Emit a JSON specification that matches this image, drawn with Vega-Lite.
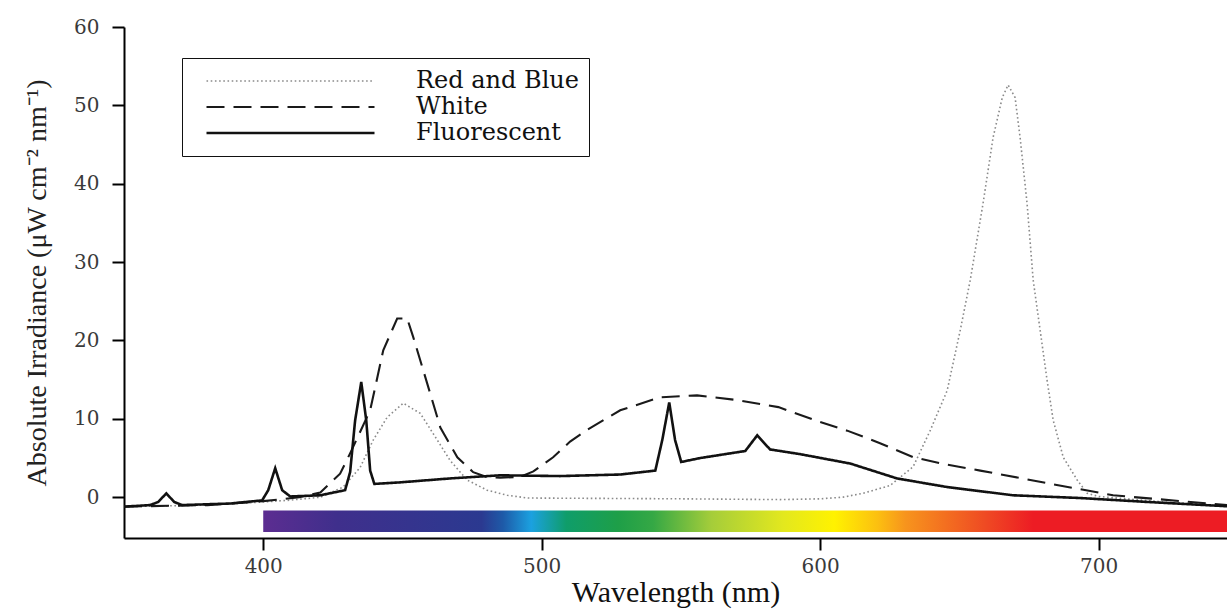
{
  "$schema": "https://vega.github.io/schema/vega-lite/v6.json",
  "width": 1103,
  "height": 511,
  "autosize": "none",
  "padding": {"left": 124, "top": 27, "right": 0, "bottom": 72},
  "background": "white",
  "config": {
    "view": {"stroke": null},
    "font": "Liberation Serif",
    "legend": {
      "orient": "none",
      "legendX": 58,
      "legendY": 31,
      "title": null,
      "symbolType": "stroke",
      "symbolSize": 28224,
      "symbolStrokeWidth": 2.2,
      "clipHeight": 26,
      "labelFont": "DejaVu Serif",
      "labelFontSize": 24,
      "labelLimit": 400,
      "labelColor": "#111111",
      "strokeColor": "#111111",
      "padding": 10,
      "symbolOffset": 13,
      "labelOffset": 40,
      "rowPadding": 0
    }
  },
  "datasets": {
    "bar": [{"x": 400, "x2": 750, "y": -1.7, "y2": -4.45}],
    "spectra": [
      {"w": 350, "v": -1.2, "s": "Red and Blue"},
      {"w": 380, "v": -1.0, "s": "Red and Blue"},
      {"w": 400, "v": -0.6, "s": "Red and Blue"},
      {"w": 408.6, "v": -0.4, "s": "Red and Blue"},
      {"w": 420.5, "v": 0.0, "s": "Red and Blue"},
      {"w": 428.7, "v": 1.3, "s": "Red and Blue"},
      {"w": 434.8, "v": 3.8, "s": "Red and Blue"},
      {"w": 439.5, "v": 7.3, "s": "Red and Blue"},
      {"w": 444.5, "v": 10.2, "s": "Red and Blue"},
      {"w": 450.3, "v": 12.0, "s": "Red and Blue"},
      {"w": 456.4, "v": 10.7, "s": "Red and Blue"},
      {"w": 462.5, "v": 7.3, "s": "Red and Blue"},
      {"w": 467.1, "v": 4.7, "s": "Red and Blue"},
      {"w": 473.2, "v": 2.2, "s": "Red and Blue"},
      {"w": 480.4, "v": 0.9, "s": "Red and Blue"},
      {"w": 487.6, "v": 0.25, "s": "Red and Blue"},
      {"w": 495, "v": -0.1, "s": "Red and Blue"},
      {"w": 550, "v": -0.2, "s": "Red and Blue"},
      {"w": 585.6, "v": -0.3, "s": "Red and Blue"},
      {"w": 600, "v": -0.2, "s": "Red and Blue"},
      {"w": 608, "v": 0.0, "s": "Red and Blue"},
      {"w": 615.4, "v": 0.5, "s": "Red and Blue"},
      {"w": 625.1, "v": 1.5, "s": "Red and Blue"},
      {"w": 633.4, "v": 3.9, "s": "Red and Blue"},
      {"w": 639.5, "v": 8.5, "s": "Red and Blue"},
      {"w": 645.6, "v": 13.6, "s": "Red and Blue"},
      {"w": 650.3, "v": 21.3, "s": "Red and Blue"},
      {"w": 653.9, "v": 27.7, "s": "Red and Blue"},
      {"w": 658.5, "v": 37.5, "s": "Red and Blue"},
      {"w": 662.1, "v": 45.9, "s": "Red and Blue"},
      {"w": 665.4, "v": 51.0, "s": "Red and Blue"},
      {"w": 667.5, "v": 52.6, "s": "Red and Blue"},
      {"w": 670, "v": 51.0, "s": "Red and Blue"},
      {"w": 671.8, "v": 45.9, "s": "Red and Blue"},
      {"w": 674.3, "v": 37.5, "s": "Red and Blue"},
      {"w": 676.5, "v": 27.7, "s": "Red and Blue"},
      {"w": 679, "v": 21.3, "s": "Red and Blue"},
      {"w": 681.5, "v": 14.9, "s": "Red and Blue"},
      {"w": 683.7, "v": 9.8, "s": "Red and Blue"},
      {"w": 687.3, "v": 5.1, "s": "Red and Blue"},
      {"w": 692.3, "v": 2.2, "s": "Red and Blue"},
      {"w": 695.9, "v": 0.5, "s": "Red and Blue"},
      {"w": 700, "v": 0.1, "s": "Red and Blue"},
      {"w": 720, "v": -0.5, "s": "Red and Blue"},
      {"w": 746.1, "v": -1.15, "s": "Red and Blue"},
      {"w": 750, "v": -1.2, "s": "Red and Blue"},

      {"w": 350, "v": -1.2, "s": "White"},
      {"w": 380, "v": -1.0, "s": "White"},
      {"w": 400, "v": -0.5, "s": "White"},
      {"w": 413, "v": 0.0, "s": "White"},
      {"w": 420.5, "v": 0.6, "s": "White"},
      {"w": 427.6, "v": 3.0, "s": "White"},
      {"w": 431.2, "v": 5.6, "s": "White"},
      {"w": 438.4, "v": 11.1, "s": "White"},
      {"w": 443.1, "v": 18.75, "s": "White"},
      {"w": 448.1, "v": 22.8, "s": "White"},
      {"w": 451.7, "v": 22.8, "s": "White"},
      {"w": 453.9, "v": 20.4, "s": "White"},
      {"w": 458.9, "v": 14.5, "s": "White"},
      {"w": 463.6, "v": 8.9, "s": "White"},
      {"w": 469.7, "v": 5.1, "s": "White"},
      {"w": 475.4, "v": 3.2, "s": "White"},
      {"w": 480.4, "v": 2.55, "s": "White"},
      {"w": 485.1, "v": 2.5, "s": "White"},
      {"w": 492.3, "v": 2.6, "s": "White"},
      {"w": 497, "v": 3.3, "s": "White"},
      {"w": 504.1, "v": 5.1, "s": "White"},
      {"w": 510.2, "v": 7.1, "s": "White"},
      {"w": 516.3, "v": 8.6, "s": "White"},
      {"w": 528.2, "v": 11.1, "s": "White"},
      {"w": 542.5, "v": 12.75, "s": "White"},
      {"w": 555.8, "v": 13.0, "s": "White"},
      {"w": 570.2, "v": 12.4, "s": "White"},
      {"w": 585, "v": 11.5, "s": "White"},
      {"w": 600, "v": 9.6, "s": "White"},
      {"w": 609.7, "v": 8.5, "s": "White"},
      {"w": 621.5, "v": 6.9, "s": "White"},
      {"w": 633.4, "v": 5.1, "s": "White"},
      {"w": 645, "v": 4.2, "s": "White"},
      {"w": 657.5, "v": 3.4, "s": "White"},
      {"w": 681.5, "v": 1.8, "s": "White"},
      {"w": 705.2, "v": 0.25, "s": "White"},
      {"w": 746.1, "v": -1.0, "s": "White"},
      {"w": 750, "v": -1.1, "s": "White"},

      {"w": 350, "v": -1.2, "s": "Fluorescent"},
      {"w": 359.4, "v": -1.0, "s": "Fluorescent"},
      {"w": 362.3, "v": -0.6, "s": "Fluorescent"},
      {"w": 365.2, "v": 0.5, "s": "Fluorescent"},
      {"w": 368, "v": -0.6, "s": "Fluorescent"},
      {"w": 370.9, "v": -1.0, "s": "Fluorescent"},
      {"w": 388.2, "v": -0.8, "s": "Fluorescent"},
      {"w": 399.6, "v": -0.4, "s": "Fluorescent"},
      {"w": 401.8, "v": 0.9, "s": "Fluorescent"},
      {"w": 404.3, "v": 3.7, "s": "Fluorescent"},
      {"w": 406.8, "v": 0.9, "s": "Fluorescent"},
      {"w": 409.7, "v": 0.1, "s": "Fluorescent"},
      {"w": 420.5, "v": 0.25, "s": "Fluorescent"},
      {"w": 429.4, "v": 0.9, "s": "Fluorescent"},
      {"w": 431.2, "v": 3.2, "s": "Fluorescent"},
      {"w": 433, "v": 9.8, "s": "Fluorescent"},
      {"w": 435.2, "v": 14.7, "s": "Fluorescent"},
      {"w": 437, "v": 9.8, "s": "Fluorescent"},
      {"w": 438.4, "v": 3.4, "s": "Fluorescent"},
      {"w": 439.9, "v": 1.7, "s": "Fluorescent"},
      {"w": 449.2, "v": 1.9, "s": "Fluorescent"},
      {"w": 467.1, "v": 2.4, "s": "Fluorescent"},
      {"w": 485.1, "v": 2.8, "s": "Fluorescent"},
      {"w": 506.6, "v": 2.7, "s": "Fluorescent"},
      {"w": 528.2, "v": 2.9, "s": "Fluorescent"},
      {"w": 540.8, "v": 3.4, "s": "Fluorescent"},
      {"w": 543.3, "v": 7.3, "s": "Fluorescent"},
      {"w": 545.8, "v": 12.1, "s": "Fluorescent"},
      {"w": 547.9, "v": 7.3, "s": "Fluorescent"},
      {"w": 550.1, "v": 4.5, "s": "Fluorescent"},
      {"w": 556.9, "v": 5.0, "s": "Fluorescent"},
      {"w": 567.7, "v": 5.6, "s": "Fluorescent"},
      {"w": 573.1, "v": 5.9, "s": "Fluorescent"},
      {"w": 577.4, "v": 7.9, "s": "Fluorescent"},
      {"w": 582, "v": 6.1, "s": "Fluorescent"},
      {"w": 592.8, "v": 5.5, "s": "Fluorescent"},
      {"w": 610.8, "v": 4.3, "s": "Fluorescent"},
      {"w": 627.6, "v": 2.4, "s": "Fluorescent"},
      {"w": 645.6, "v": 1.3, "s": "Fluorescent"},
      {"w": 669.3, "v": 0.25, "s": "Fluorescent"},
      {"w": 693.4, "v": -0.1, "s": "Fluorescent"},
      {"w": 717.4, "v": -0.6, "s": "Fluorescent"},
      {"w": 746.1, "v": -1.15, "s": "Fluorescent"},
      {"w": 750, "v": -1.2, "s": "Fluorescent"}
    ]
  },
  "layer": [
    {
      "data": {"name": "bar"},
      "mark": {
        "type": "rect",
        "clip": true,
        "fill": {
          "gradient": "linear",
          "x1": 0, "y1": 0, "x2": 1, "y2": 0,
          "stops": [
            {"offset": 0, "color": "#5c2d91"},
            {"offset": 0.076, "color": "#3f2f8c"},
            {"offset": 0.224, "color": "#2b3990"},
            {"offset": 0.246, "color": "#1e5aa8"},
            {"offset": 0.275, "color": "#1ba1e0"},
            {"offset": 0.311, "color": "#0f9d6a"},
            {"offset": 0.364, "color": "#1e9f48"},
            {"offset": 0.4, "color": "#35a845"},
            {"offset": 0.46, "color": "#a5cd3a"},
            {"offset": 0.534, "color": "#e3e81e"},
            {"offset": 0.586, "color": "#fff200"},
            {"offset": 0.63, "color": "#fcc010"},
            {"offset": 0.659, "color": "#f7941d"},
            {"offset": 0.74, "color": "#ef4b23"},
            {"offset": 0.79, "color": "#ed1c24"},
            {"offset": 1, "color": "#ed1c24"}
          ]
        }
      },
      "encoding": {
        "x": {
          "field": "x", "type": "quantitative",
          "scale": {"domain": [350, 746.1], "nice": false, "zero": false},
          "axis": {
            "title": "Wavelength (nm)",
            "values": [400, 500, 600, 700],
            "format": "d",
            "grid": false,
            "domainColor": "#000000", "domainWidth": 2,
            "tickColor": "#000000", "tickWidth": 2, "tickSize": 12,
            "labelFont": "DejaVu Serif", "labelFontSize": 20, "labelColor": "#3a3a3a",
            "labelPadding": 6,
            "titleFont": "Liberation Serif", "titleFontSize": 30, "titleFontWeight": "normal",
            "titleColor": "#111111", "titlePadding": 1
          }
        },
        "x2": {"field": "x2"},
        "y": {
          "field": "y", "type": "quantitative",
          "scale": {"domain": [-5.2, 60], "nice": false, "zero": false},
          "axis": {
            "title": "Absolute Irradiance (μW cm⁻² nm⁻¹)",
            "values": [0, 10, 20, 30, 40, 50, 60],
            "format": "d",
            "grid": false,
            "domainColor": "#000000", "domainWidth": 2,
            "tickColor": "#000000", "tickWidth": 2, "tickSize": 12,
            "labelFont": "DejaVu Serif", "labelFontSize": 20, "labelColor": "#3a3a3a",
            "labelPadding": 13,
            "titleFont": "Liberation Serif", "titleFontSize": 28, "titleFontWeight": "normal",
            "titleColor": "#222222", "titlePadding": 22
          }
        },
        "y2": {"field": "y2"}
      }
    },
    {
      "data": {"name": "spectra"},
      "mark": {"type": "line", "clip": true},
      "encoding": {
        "x": {"field": "w", "type": "quantitative"},
        "y": {"field": "v", "type": "quantitative"},
        "color": {
          "field": "s", "type": "nominal",
          "scale": {"domain": ["Red and Blue", "White", "Fluorescent"], "range": ["#8a8a8a", "#1a1a1a", "#111111"]}
        },
        "strokeDash": {
          "field": "s", "type": "nominal",
          "scale": {"domain": ["Red and Blue", "White", "Fluorescent"], "range": [[1.6, 2.6], [18, 9], [1, 0]]}
        },
        "strokeWidth": {
          "field": "s", "type": "nominal",
          "scale": {"domain": ["Red and Blue", "White", "Fluorescent"], "range": [1.6, 2.6, 2.4]}
        }
      }
    }
  ]
}
